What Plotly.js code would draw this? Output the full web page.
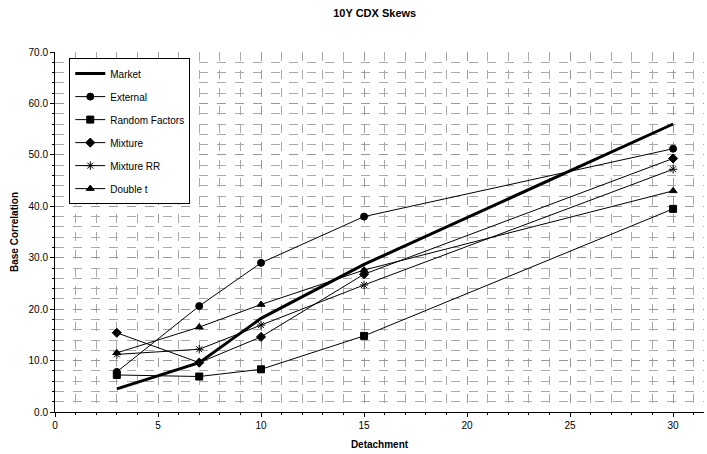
<!DOCTYPE html>
<html>
<head>
<meta charset="utf-8">
<script src="https://cdn.plot.ly/plotly-3.0.1.min.js"></script>
<style>html,body{margin:0;padding:0;background:#fff;}#chart{width:707px;height:454px;}</style>
</head>
<body>
<div id="chart"></div>
<script>
const detachment = [3, 7, 10, 15, 30];
const market = [4.5, 9.6, 18.2, 28.7, 56.0];
const external = [7.8, 20.6, 29.0, 38.0, 51.2];
const randomFactors = [7.2, 6.9, 8.3, 14.8, 39.5];
const mixture = [15.4, 9.6, 14.6, 26.8, 49.3];
const mixtureRR = [11.2, 12.2, 16.9, 24.7, 47.2];
const doubleT = [11.5, 16.5, 20.9, 27.6, 43.0];

const seriesNames = ["Market", "External", "Random Factors", "Mixture", "Mixture RR", "Double t"];
const seriesValues = [market, external, randomFactors, mixture, mixtureRR, doubleT];
const symbols = [null, "circle", "square", "diamond", "asterisk-open", "triangle-up"];

const traces = seriesNames.map((name, i) => {
  const t = {
    x: detachment, y: seriesValues[i], name: name, type: "scatter",
    legendgroup: "g" + i,
    line: {color: "#000", width: i === 0 ? 3 : 1},
    mode: i === 0 ? "lines" : "lines+markers"
  };
  if (i > 0) t.marker = {symbol: symbols[i], size: 7, color: "#000", line: {color: "#000", width: 1}};
  return t;
});

const layout = {
  width: 707, height: 454,
  margin: {l: 55, r: 3, t: 52, b: 42},
  paper_bgcolor: "#fff", plot_bgcolor: "#fff",
  font: {family: "Liberation Sans, Arial, sans-serif", size: 10, color: "#000"},
  title: {text: "<b>10Y CDX Skews</b>", x: 0.53, xanchor: "center", y: 0.97, yanchor: "middle", font: {size: 11}},
  xaxis: {
    range: [0, 31.5], dtick: 5, tick0: 0,
    showline: true, linecolor: "#000", linewidth: 1,
    ticks: "outside", ticklen: 4, tickcolor: "#000",
    showgrid: true, gridcolor: "#999", griddash: "dash", gridwidth: 1,
    minor: {dtick: 1, showgrid: true, gridcolor: "#aaa", griddash: "dash", ticks: "outside", ticklen: 2, tickcolor: "#000"},
    zeroline: false,
    title: {text: "<b>Detachment</b>", font: {size: 10}, standoff: 10}
  },
  yaxis: {
    range: [0, 70], dtick: 10, tick0: 0, tickformat: ".1f",
    showline: true, linecolor: "#000", linewidth: 1,
    ticks: "outside", ticklen: 4, tickcolor: "#000",
    showgrid: true, gridcolor: "#999", griddash: "dash", gridwidth: 1,
    minor: {dtick: 2, showgrid: true, gridcolor: "#aaa", griddash: "dash", ticks: "outside", ticklen: 2, tickcolor: "#000"},
    zeroline: false,
    title: {text: "<b>Base Correlation</b>", font: {size: 10}, standoff: 8}
  },
  showlegend: true,
  legend: {
    x: 0.022, y: 0.983, xanchor: "left", yanchor: "top",
    bgcolor: "#fff", bordercolor: "#000", borderwidth: 1,
    font: {size: 10}, traceorder: "grouped", tracegroupgap: 4
  }
};

Plotly.newPlot("chart", traces, layout, {displayModeBar: false, staticPlot: true});
</script>
</body>
</html>
